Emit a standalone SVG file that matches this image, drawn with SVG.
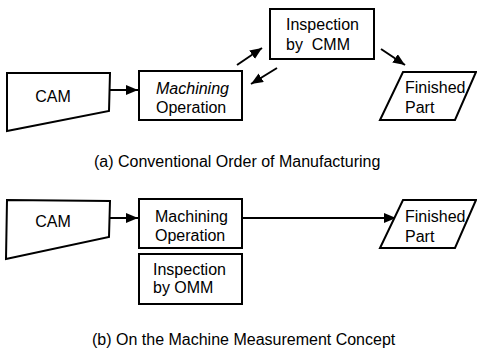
<svg xmlns="http://www.w3.org/2000/svg" width="477" height="351" viewBox="0 0 477 351">
<style>
.s{fill:#fff;stroke:#000;stroke-width:2;stroke-linejoin:miter}
.t{font-family:"Liberation Sans",Arial,sans-serif;font-size:16px;fill:#000}
.c{stroke:#000;stroke-width:2;fill:none;marker-end:url(#ah)}
</style>
<defs>
<marker id="ah" markerUnits="userSpaceOnUse" markerWidth="13" markerHeight="11" refX="12" refY="5" orient="auto">
<path d="M0,0 L12,5 L0,10 z" fill="#000"/>
</marker>
</defs>
<rect width="477" height="351" fill="#fff"/>
<g id="connectors">
<line class="c" x1="110" y1="90" x2="138" y2="90"/>
<line class="c" x1="237" y1="65" x2="262" y2="48"/>
<line class="c" x1="277" y1="68" x2="251" y2="84"/>
<line class="c" x1="381" y1="49" x2="405" y2="65"/>
<line class="c" x1="110" y1="218" x2="138" y2="218"/>
<line class="c" x1="242" y1="218" x2="396" y2="218"/>
</g>
<g id="cam-a">
<polygon class="s" points="7,73 110,73 109,111 7,131"/>
<text class="t" x="53" y="102" text-anchor="middle">CAM</text>
</g>
<g id="machining-a">
<rect class="s" x="139" y="71" width="103" height="49"/>
<text class="t" x="156" y="94" font-style="italic">Machining</text>
<text class="t" x="156" y="113">Operation</text>
</g>
<g id="inspection-cmm">
<rect class="s" x="270" y="9" width="104" height="50"/>
<text class="t" x="286" y="30">Inspection</text>
<text class="t" x="286" y="50" style="white-space:pre">by  CMM</text>
</g>
<g id="finished-a">
<polygon class="s" points="403,72 476,72 455,120 380,120"/>
<text class="t" x="405" y="93">Finished</text>
<text class="t" x="405" y="113">Part</text>
</g>
<g id="caption-a">
<text class="t" x="94" y="167">(a) Conventional Order of Manufacturing</text>
</g>
<g id="cam-b">
<polygon class="s" points="7,200 110,201 109,237 6,259"/>
<text class="t" x="53" y="227" text-anchor="middle">CAM</text>
</g>
<g id="machining-b">
<rect class="s" x="139" y="199" width="103" height="49"/>
<text class="t" x="155" y="222">Machining</text>
<text class="t" x="155" y="241">Operation</text>
</g>
<g id="inspection-omm">
<rect class="s" x="139" y="254" width="103" height="50"/>
<text class="t" x="153" y="275">Inspection</text>
<text class="t" x="153" y="293">by OMM</text>
</g>
<g id="finished-b">
<polygon class="s" points="403,200 476,200 455,248 380,248"/>
<text class="t" x="405" y="222">Finished</text>
<text class="t" x="405" y="242">Part</text>
</g>
<g id="caption-b">
<text class="t" x="92" y="345">(b) On the Machine Measurement Concept</text>
</g>
</svg>
